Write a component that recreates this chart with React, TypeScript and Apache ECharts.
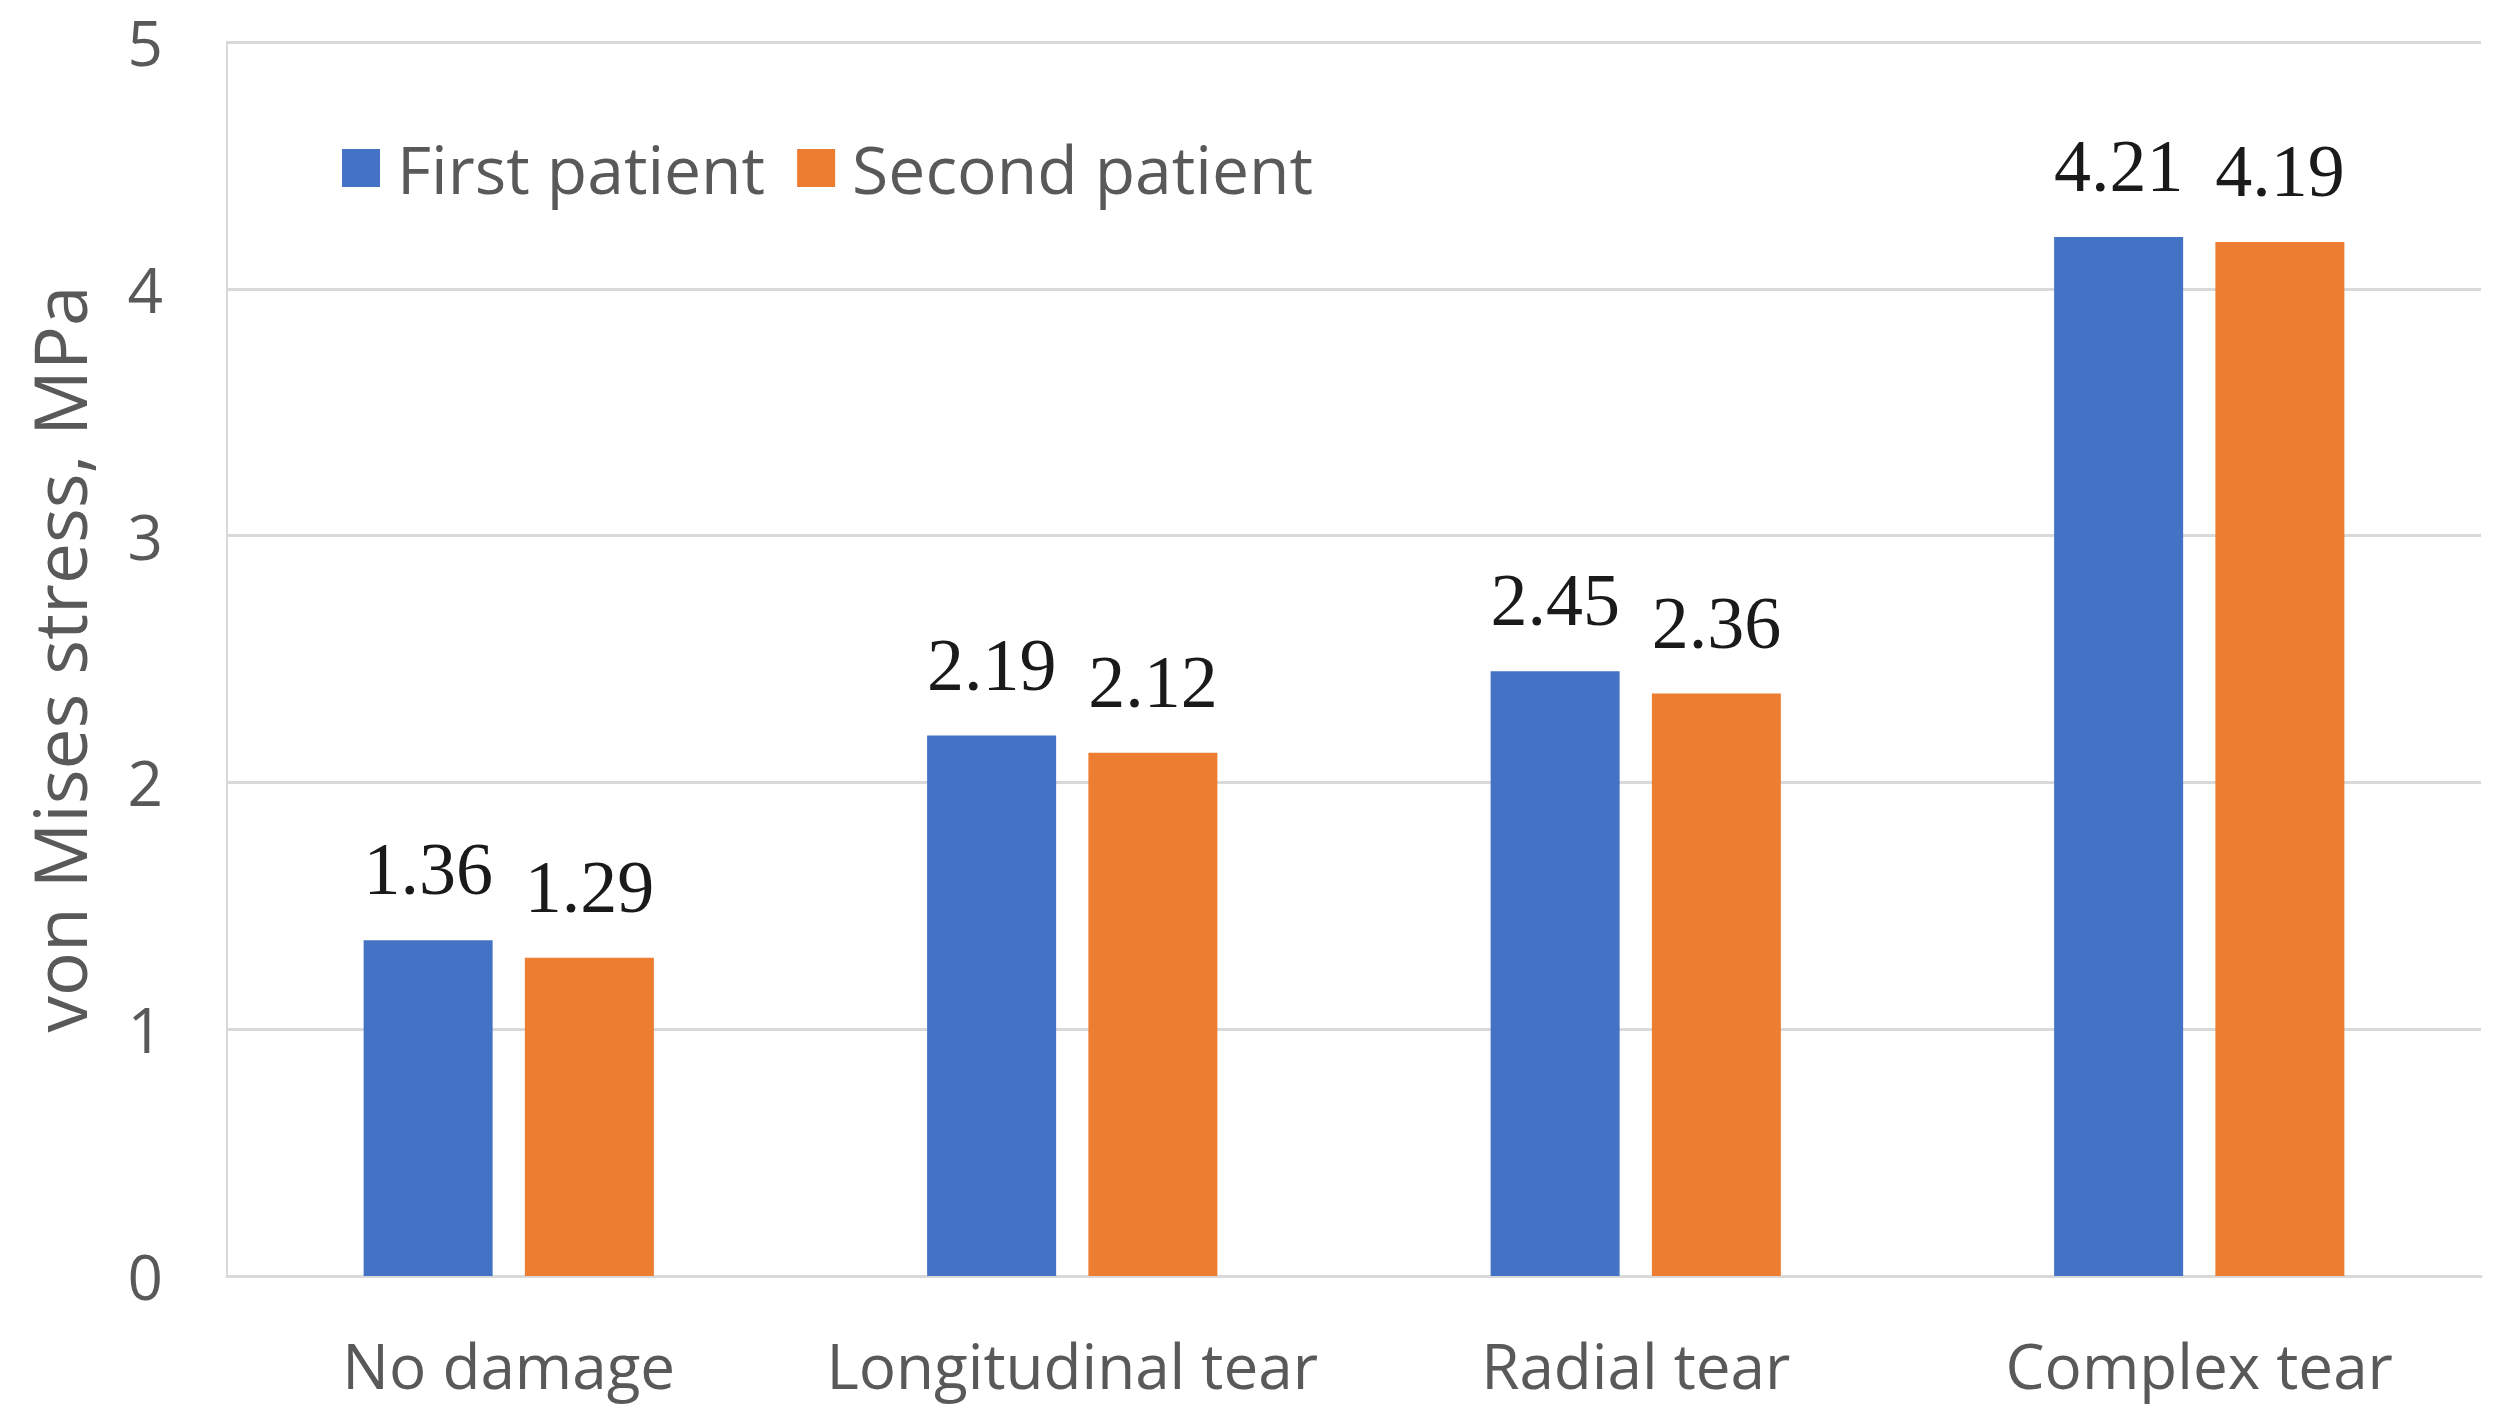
import React, { useEffect, useRef } from "react";
import * as echarts from "echarts";

const categories = ["No damage", "Longitudinal tear", "Radial tear", "Complex tear"];
const seriesNames = ["First patient", "Second patient"];
const firstPatient = [1.36, 2.19, 2.45, 4.21];
const secondPatient = [1.29, 2.12, 2.36, 4.19];
const yTicks = { min: 0, max: 5, interval: 1 };

const W = 2494;
const H = 1426;

export default function App() {
  const ref = useRef<HTMLDivElement>(null);
  useEffect(() => {
    document.body.style.margin = "0";
    const chart = echarts.init(ref.current!, null, { renderer: "svg" });
    const labelStyle = {
      show: true,
      position: "top",
      distance: 16,
      fontFamily: "Liberation Serif",
      fontSize: 74,
      color: "#1a1a1a",
      backgroundColor: "#ffffff",
      padding: [18, 24],
      formatter: (p: any) => p.value.toFixed(2),
    };
    chart.setOption({
      animation: false,
      backgroundColor: "#ffffff",
      grid: { left: 227, right: 13, top: 42, bottom: 150, containLabel: false },
      legend: {
        left: 337,
        top: 130,
        itemWidth: 38,
        itemHeight: 38,
        itemGap: 32,
        icon: "rect",
        textStyle: {
          fontFamily: "Open Sans",
          fontSize: 66,
          color: "#595959",
          padding: [0, 0, 0, 12],
        },
        data: seriesNames,
      },
      xAxis: {
        type: "category",
        data: categories,
        axisLine: { show: true, lineStyle: { color: "#d9d9d9", width: 3 } },
        axisTick: { show: false },
        axisLabel: {
          interval: 0,
          margin: 58,
          fontFamily: "Open Sans",
          fontSize: 62,
          color: "#595959",
        },
      },
      yAxis: {
        type: "value",
        min: yTicks.min,
        max: yTicks.max,
        interval: yTicks.interval,
        name: "von Mises stress, MPa",
        nameLocation: "middle",
        nameGap: 132,
        nameTextStyle: {
          fontFamily: "Open Sans",
          fontSize: 73,
          color: "#595959",
        },
        axisLine: { show: true, lineStyle: { color: "#d9d9d9", width: 2 } },
        axisTick: { show: false },
        splitLine: { show: true, lineStyle: { color: "#d9d9d9", width: 3 } },
        axisLabel: {
          margin: 64,
          fontFamily: "Open Sans",
          fontSize: 62,
          color: "#595959",
        },
      },
      series: [
        {
          name: seriesNames[0],
          type: "bar",
          data: firstPatient,
          barWidth: 129,
          barGap: "25%",
          itemStyle: { color: "#4472C4" },
          label: labelStyle,
        },
        {
          name: seriesNames[1],
          type: "bar",
          data: secondPatient,
          barWidth: 129,
          barGap: "25%",
          itemStyle: { color: "#ED7D31" },
          label: labelStyle,
        },
      ],
    });
    return () => chart.dispose();
  }, []);
  return <div ref={ref} style={{ width: W, height: H }} />;
}
